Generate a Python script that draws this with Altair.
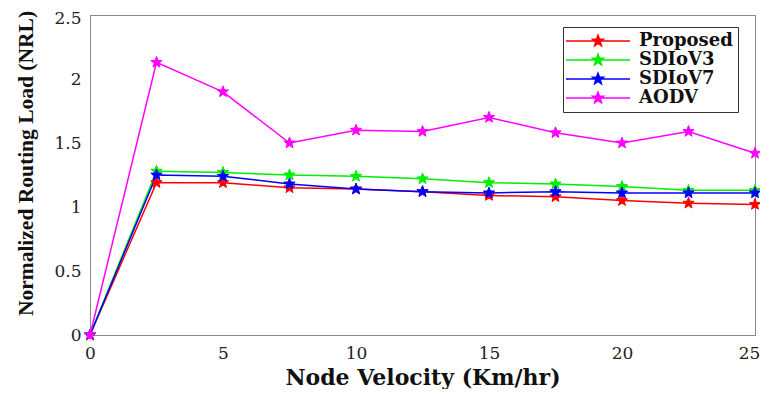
import math
import altair as alt
import pandas as pd

velocity = [0, 2.5, 5, 7.5, 10, 12.5, 15, 17.5, 20, 22.5, 25]
proposed = [0, 1.19, 1.19, 1.15, 1.14, 1.12, 1.09, 1.08, 1.05, 1.03, 1.02]
sdiov3 = [0, 1.28, 1.27, 1.25, 1.24, 1.22, 1.19, 1.18, 1.16, 1.13, 1.13]
sdiov7 = [0, 1.25, 1.24, 1.18, 1.14, 1.12, 1.11, 1.12, 1.11, 1.11, 1.11]
aodv = [0, 2.13, 1.90, 1.50, 1.60, 1.59, 1.70, 1.58, 1.50, 1.59, 1.42]
series_names = ["Proposed", "SDIoV3", "SDIoV7", "AODV"]
series_values = [proposed, sdiov3, sdiov7, aodv]
colors = ["#ff0000", "#00ee00", "#0000ff", "#ff00ff"]
x_ticks = [0, 5, 10, 15, 20, 25]
y_ticks = [0, 0.5, 1, 1.5, 2, 2.5]

rows = []
for name, vals in zip(series_names, series_values):
    for v, n in zip(velocity, vals):
        rows.append({"velocity": v, "nrl": n, "series": name})
df = pd.DataFrame(rows)


def star_path(r_out, r_in):
    pts = []
    for k in range(10):
        r = r_out if k % 2 == 0 else r_in
        a = math.radians(-90 + 36 * k)
        pts.append((r * math.cos(a), r * math.sin(a)))
    return "M" + "L".join(f"{px:.3f},{py:.3f}" for px, py in pts) + "Z"


STAR = star_path(1.0, 0.42)
LEGEND_SYMBOL = "M-4,0L4,0" + star_path(0.72, 0.3)

SERIF = "DejaVu Serif"

x_enc = alt.X(
    "velocity:Q",
    scale=alt.Scale(domain=[0, 25], nice=False),
    axis=alt.Axis(
        values=x_ticks,
        title="Node Velocity (Km/hr)",
        titleFont=SERIF,
        titleFontSize=22,
        titleFontWeight="bold",
        titleColor="#111",
        titlePadding=6,
        labelFont=SERIF,
        labelFontSize=17,
        labelColor="#222",
        labelPadding=10,
        labelFlush=False,
        labelOffset={"condition": {"test": "datum.value == 25", "value": -6}, "value": 0},
        ticks=False,
        grid=False,
        domainColor="#888",
    ),
)
y_enc = alt.Y(
    "nrl:Q",
    scale=alt.Scale(domain=[0, 2.5], nice=False),
    axis=alt.Axis(
        values=y_ticks,
        format="~g",
        title="Normalized Routing Load (NRL)",
        titleFont="Liberation Serif",
        titleFontSize=21.5,
        titleFontWeight="bold",
        titleColor="#111",
        titlePadding=16,
        titleY=148,
        labelFont=SERIF,
        labelFontSize=17,
        labelColor="#222",
        labelPadding=9,
        labelFlush=False,
        labelOffset={"condition": {"test": "datum.value == 2.5", "value": 3}, "value": 0},
        ticks=False,
        grid=False,
        domainColor="#888",
    ),
)
color_scale = alt.Scale(domain=series_names, range=colors)
legend = alt.Legend(
    title=None,
    orient="none",
    legendX=473,
    legendY=12,
    symbolType=LEGEND_SYMBOL,
    symbolSize=256,
    symbolStrokeWidth=1.5,
    symbolOffset=21,
    labelOffset=32,
    labelFont=SERIF,
    labelFontSize=18,
    labelFontWeight="bold",
    labelColor="#111",
    strokeColor="#333",
    fillColor="white",
    padding=5,
    rowPadding=1,
)

base = alt.Chart(df)
lines = base.mark_line(strokeWidth=1.5).encode(
    x=x_enc,
    y=y_enc,
    stroke=alt.Stroke("series:N", scale=color_scale, legend=legend),
    detail="series:N",
    order="velocity:Q",
)
points = base.mark_point(shape=STAR, filled=True, size=140, opacity=1, strokeWidth=1).encode(
    x=x_enc,
    y=y_enc,
    fill=alt.Fill("series:N", scale=color_scale, legend=legend),
    stroke=alt.Stroke("series:N", scale=color_scale, legend=legend),
)

chart = (
    alt.layer(lines, points)
    .properties(
        width=665,
        height=320,
        autosize=alt.AutoSizeParams(type="none"),
        padding={"left": 82, "top": 7, "right": 5, "bottom": 54},
        background="white",
    )
    .configure_view(stroke="#888", strokeWidth=1)
)

chart.save("out.html", embed_options={"renderer": "svg", "actions": False})
